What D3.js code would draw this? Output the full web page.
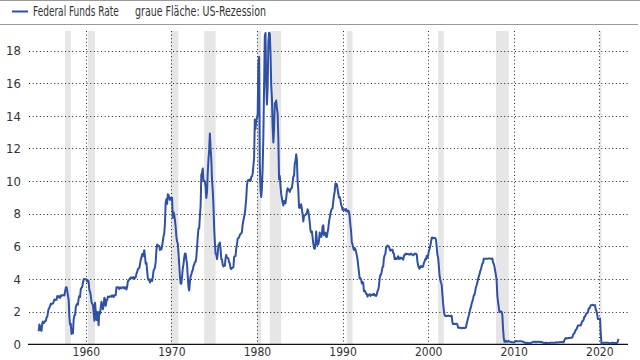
<!DOCTYPE html>
<html>
<head>
<meta charset="utf-8">
<script src="https://cdn.jsdelivr.net/npm/d3@7"></script>
<style>
  html, body { margin: 0; padding: 0; background: #fff; }
  svg { display: block; }
  text { font-family: "Liberation Sans Narrow", "DejaVu Sans Condensed", Roboto, sans-serif; font-stretch: condensed; fill: #333; }
</style>
</head>
<body>
<svg id="chart" width="640" height="360"></svg>
<script>
// ===== DATA =====
// monthly Federal Funds Rate in %, first value = July 1954
const firstMonth = 1954 + 6 / 12;
const rates = [
  0.80, 1.22, 1.07, 0.85, 0.83, 1.28,                               // 1954 (Jul-Dec)
  1.39, 1.29, 1.35, 1.43, 1.43, 1.64, 1.68, 1.96, 2.18, 2.24, 2.35, 2.48, // 1955
  2.45, 2.50, 2.50, 2.62, 2.75, 2.71, 2.75, 2.73, 2.95, 2.96, 2.88, 2.94, // 1956
  2.84, 3.00, 2.96, 3.00, 3.00, 3.00, 2.99, 3.24, 3.47, 3.50, 3.28, 2.98, // 1957
  2.72, 1.67, 1.20, 1.26, 0.63, 0.93, 0.68, 1.53, 1.76, 1.80, 2.27, 2.42, // 1958
  2.48, 2.43, 2.80, 2.96, 2.90, 3.39, 3.47, 3.50, 3.76, 3.98, 4.00, 3.99, // 1959
  3.99, 3.97, 3.84, 3.92, 3.85, 3.32, 3.23, 2.98, 2.60, 2.47, 2.44, 1.98, // 1960
  1.45, 2.54, 2.02, 1.49, 1.98, 1.73, 1.17, 2.00, 1.88, 2.26, 2.61, 2.33, // 1961
  2.15, 2.37, 2.85, 2.78, 2.36, 2.68, 2.71, 2.93, 2.90, 2.90, 2.94, 2.93, // 1962
  2.92, 3.00, 2.98, 2.90, 3.00, 2.99, 3.02, 3.49, 3.48, 3.50, 3.48, 3.38, // 1963
  3.48, 3.48, 3.43, 3.47, 3.50, 3.50, 3.42, 3.50, 3.45, 3.36, 3.52, 3.85, // 1964
  3.90, 3.98, 4.04, 4.09, 4.10, 4.04, 4.09, 4.12, 4.01, 4.08, 4.10, 4.32, // 1965
  4.42, 4.60, 4.65, 4.67, 4.90, 5.17, 5.30, 5.53, 5.40, 5.53, 5.76, 5.40, // 1966
  4.94, 5.00, 4.53, 4.05, 3.94, 3.98, 3.79, 3.90, 3.99, 3.88, 4.12, 4.51, // 1967
  4.60, 4.71, 5.05, 5.76, 6.11, 6.07, 6.02, 6.03, 5.78, 5.91, 5.82, 6.02, // 1968
  6.30, 6.61, 6.79, 7.41, 8.67, 8.90, 8.61, 9.19, 9.15, 9.00, 8.85, 8.97, // 1969
  8.98, 8.98, 7.76, 8.10, 7.95, 7.61, 7.21, 6.61, 6.29, 6.20, 5.60, 4.90, // 1970
  4.14, 3.72, 3.71, 4.16, 4.63, 4.91, 5.31, 5.56, 5.55, 5.20, 4.91, 4.14, // 1971
  3.50, 3.29, 3.83, 4.17, 4.27, 4.46, 4.55, 4.80, 4.87, 5.04, 5.06, 5.33, // 1972
  5.94, 6.58, 7.09, 7.12, 7.84, 8.49, 10.40, 10.50, 10.78, 10.01, 10.03, 9.95, // 1973
  9.65, 8.97, 9.35, 10.51, 11.31, 11.93, 12.92, 12.01, 11.34, 10.06, 9.45, 8.53, // 1974
  7.13, 6.24, 5.54, 5.49, 5.22, 5.55, 6.10, 6.14, 6.24, 5.82, 5.22, 5.20, // 1975
  4.87, 4.77, 4.84, 4.82, 5.29, 5.48, 5.31, 5.29, 5.25, 5.02, 4.95, 4.65, // 1976
  4.61, 4.68, 4.69, 4.73, 5.35, 5.39, 5.42, 5.90, 6.14, 6.47, 6.51, 6.56, // 1977
  6.70, 6.78, 6.79, 6.89, 7.36, 7.60, 7.81, 8.04, 8.45, 8.96, 9.76, 10.03, // 1978
  10.07, 10.06, 10.09, 10.01, 10.24, 10.29, 10.47, 10.94, 11.43, 13.77, 13.18, 13.78, // 1979
  13.82, 14.13, 17.19, 17.61, 10.98, 9.47, 9.03, 9.61, 10.87, 12.81, 15.85, 18.90, // 1980
  19.08, 15.93, 14.70, 15.72, 18.52, 19.10, 19.04, 17.82, 15.87, 15.08, 13.31, 12.37, // 1981
  13.22, 14.78, 14.68, 14.94, 14.45, 14.15, 12.59, 10.12, 10.31, 9.71, 9.20, 8.95, // 1982
  8.68, 8.51, 8.77, 8.80, 8.63, 8.98, 9.37, 9.56, 9.45, 9.48, 9.34, 9.47, // 1983
  9.56, 9.59, 9.91, 10.29, 10.32, 11.06, 11.23, 11.64, 11.30, 9.99, 9.43, 8.38, // 1984
  8.35, 8.50, 8.58, 8.27, 7.97, 7.53, 7.88, 7.90, 7.92, 7.99, 8.05, 8.27, // 1985
  8.14, 7.86, 7.48, 6.99, 6.85, 6.92, 6.56, 6.17, 5.89, 5.85, 6.04, 6.91, // 1986
  6.43, 6.10, 6.13, 6.37, 6.85, 6.73, 6.58, 6.73, 7.22, 7.29, 6.69, 6.77, // 1987
  6.83, 6.58, 6.58, 6.87, 7.09, 7.51, 7.75, 8.01, 8.19, 8.30, 8.35, 8.76, // 1988
  9.12, 9.36, 9.85, 9.84, 9.81, 9.53, 9.24, 8.99, 9.02, 8.84, 8.55, 8.45, // 1989
  8.23, 8.24, 8.28, 8.26, 8.18, 8.29, 8.15, 8.13, 8.20, 8.11, 7.81, 7.31, // 1990
  6.91, 6.25, 6.12, 5.91, 5.78, 5.90, 5.82, 5.66, 5.45, 5.21, 4.81, 4.43, // 1991
  4.03, 4.06, 3.98, 3.73, 3.82, 3.76, 3.25, 3.30, 3.22, 3.10, 3.09, 2.92, // 1992
  3.02, 3.03, 3.07, 2.96, 3.00, 3.04, 3.06, 3.03, 3.09, 2.99, 3.02, 2.96, // 1993
  3.05, 3.25, 3.34, 3.56, 4.01, 4.25, 4.26, 4.47, 4.73, 4.76, 5.29, 5.45, // 1994
  5.53, 5.92, 5.98, 6.05, 6.01, 6.00, 5.85, 5.74, 5.80, 5.76, 5.80, 5.60, // 1995
  5.56, 5.22, 5.31, 5.22, 5.24, 5.27, 5.40, 5.22, 5.30, 5.24, 5.31, 5.29, // 1996
  5.25, 5.19, 5.39, 5.51, 5.50, 5.56, 5.52, 5.54, 5.54, 5.50, 5.52, 5.50, // 1997
  5.56, 5.51, 5.49, 5.45, 5.49, 5.56, 5.54, 5.55, 5.51, 5.07, 4.83, 4.68, // 1998
  4.63, 4.76, 4.81, 4.74, 4.74, 4.76, 4.99, 5.07, 5.22, 5.20, 5.42, 5.30, // 1999
  5.45, 5.73, 5.85, 6.02, 6.27, 6.53, 6.54, 6.50, 6.52, 6.51, 6.51, 6.40, // 2000
  5.98, 5.49, 5.31, 4.80, 4.21, 3.97, 3.77, 3.65, 3.07, 2.49, 2.09, 1.82, // 2001
  1.73, 1.74, 1.73, 1.75, 1.75, 1.75, 1.73, 1.74, 1.75, 1.75, 1.34, 1.24, // 2002
  1.24, 1.26, 1.25, 1.26, 1.26, 1.22, 1.01, 1.03, 1.01, 1.01, 1.00, 0.98, // 2003
  1.00, 1.01, 1.00, 1.00, 1.00, 1.03, 1.26, 1.43, 1.61, 1.76, 1.93, 2.16, // 2004
  2.28, 2.50, 2.63, 2.79, 3.00, 3.04, 3.26, 3.50, 3.62, 3.78, 4.00, 4.16, // 2005
  4.29, 4.49, 4.59, 4.79, 4.94, 4.99, 5.24, 5.25, 5.25, 5.25, 5.25, 5.24, // 2006
  5.25, 5.26, 5.26, 5.25, 5.25, 5.25, 5.26, 5.02, 4.94, 4.76, 4.49, 4.24, // 2007
  3.94, 2.98, 2.61, 2.28, 1.98, 2.00, 2.01, 2.00, 1.81, 0.97, 0.39, 0.16, // 2008
  0.15, 0.22, 0.18, 0.15, 0.18, 0.21, 0.16, 0.16, 0.15, 0.12, 0.12, 0.12, // 2009
  0.11, 0.13, 0.16, 0.20, 0.20, 0.18, 0.18, 0.19, 0.19, 0.19, 0.19, 0.18, // 2010
  0.17, 0.16, 0.14, 0.10, 0.09, 0.09, 0.07, 0.10, 0.08, 0.07, 0.08, 0.07, // 2011
  0.08, 0.10, 0.13, 0.14, 0.16, 0.16, 0.16, 0.13, 0.14, 0.16, 0.16, 0.16, // 2012
  0.14, 0.15, 0.14, 0.15, 0.11, 0.09, 0.09, 0.08, 0.08, 0.09, 0.08, 0.09, // 2013
  0.07, 0.07, 0.08, 0.09, 0.09, 0.10, 0.09, 0.09, 0.09, 0.09, 0.09, 0.12, // 2014
  0.11, 0.11, 0.11, 0.12, 0.12, 0.13, 0.13, 0.14, 0.14, 0.12, 0.12, 0.24, // 2015
  0.34, 0.38, 0.36, 0.37, 0.37, 0.38, 0.39, 0.40, 0.40, 0.40, 0.41, 0.54, // 2016
  0.65, 0.66, 0.79, 0.90, 0.91, 1.04, 1.15, 1.16, 1.15, 1.15, 1.16, 1.30, // 2017
  1.41, 1.42, 1.51, 1.69, 1.70, 1.82, 1.91, 1.91, 1.95, 2.19, 2.20, 2.27, // 2018
  2.40, 2.40, 2.41, 2.42, 2.39, 2.38, 2.40, 2.13, 2.04, 1.83, 1.55, 1.55, // 2019
  1.55, 1.58, 0.65, 0.05, 0.05, 0.08, 0.09, 0.10, 0.09, 0.09, 0.09, 0.09, // 2020
  0.09, 0.08, 0.07, 0.07, 0.06, 0.08, 0.10, 0.09, 0.08, 0.08, 0.08, 0.08, // 2021
  0.08, 0.08, 0.20, 0.33                                             // 2022 (Jan-Apr)
];

// US recessions (start, end) as decimal years
const recessionStarts = [1957.58, 1960.25, 1969.92, 1973.83, 1980.0, 1981.5, 1990.5, 2001.17, 2007.92, 2020.08];
const recessionEnds   = [1958.25, 1961.08, 1970.83, 1975.17, 1980.5, 1982.83, 1991.17, 2001.83, 2009.42, 2020.25];

const xTicks = [1960, 1970, 1980, 1990, 2000, 2010, 2020];
const yTicks = [0, 2, 4, 6, 8, 10, 12, 14, 16, 18];
const legendLine = 'Federal Funds Rate';
const legendNote = 'graue Fläche: US-Rezession';

// ===== CHART =====
const lineColor = '#2e50a6';
const svg = d3.select('#chart');
const plotLeft = 28, plotRight = 628, plotTop = 31, plotBottom = 344.3;

const x = d3.scaleLinear().domain([1953.25, 2023.35]).range([plotLeft, plotRight]);
const y = d3.scaleLinear().domain([0, 19.2]).range([plotBottom, plotTop]);

const series = rates.map((v, i) => ({ t: firstMonth + i / 12, v }));

// squeeze a text horizontally so it spans the given width
function fitText(sel, px, py, width) {
    const w = sel.node().getComputedTextLength();
    const sx = Math.min(1, width / w);
    sel.attr('transform', `translate(${px},${py}) scale(${sx},1)`);
}

// frame lines above / below legend
svg.append('line').attr('x1', 0).attr('x2', 640).attr('y1', 0.5).attr('y2', 0.5)
    .attr('stroke', '#999').attr('stroke-width', 1);
svg.append('line').attr('x1', 0).attr('x2', 638).attr('y1', 24.5).attr('y2', 24.5)
    .attr('stroke', '#999').attr('stroke-width', 1);

// legend
svg.append('line').attr('x1', 12).attr('x2', 28).attr('y1', 11.5).attr('y2', 11.5)
    .attr('stroke', lineColor).attr('stroke-width', 2);
svg.append('text').style('font-size', '14px').text(legendLine)
    .call(fitText, 33, 16, 86);
svg.append('text').style('font-size', '14px').text(legendNote)
    .call(fitText, 135, 16, 131);

// recession bands
svg.append('g').selectAll('rect')
    .data(recessionStarts.map((s, i) => [s, recessionEnds[i]]))
    .join('rect')
    .attr('x', d => x(d[0]))
    .attr('width', d => x(d[1]) - x(d[0]))
    .attr('y', plotTop)
    .attr('height', plotBottom - plotTop)
    .attr('fill', '#e6e6e6');

// horizontal grid
svg.append('g').selectAll('line')
    .data(yTicks.filter(d => d > 0))
    .join('line')
    .attr('x1', plotLeft + 1).attr('x2', plotRight)
    .attr('y1', d => Math.round(y(d)) + 0.5).attr('y2', d => Math.round(y(d)) + 0.5)
    .attr('stroke', '#222').attr('stroke-width', 1).attr('stroke-dasharray', '1,2.6');

// vertical grid
svg.append('g').selectAll('line')
    .data(xTicks)
    .join('line')
    .attr('x1', d => Math.round(x(d)) + 0.5).attr('x2', d => Math.round(x(d)) + 0.5)
    .attr('y1', plotTop).attr('y2', plotBottom)
    .attr('stroke', '#222').attr('stroke-width', 1).attr('stroke-dasharray', '1,2.6');

// y axis labels
const yAxisG = svg.append('g').attr('transform', `translate(${plotLeft},0)`)
    .call(d3.axisLeft(y).tickValues(yTicks).tickSize(0).tickPadding(7));
yAxisG.select('.domain').remove();
yAxisG.selectAll('text').style('font-size', '13px').attr('fill', '#333');

// x axis, labels sit right at the bottom edge
const xAxisG = svg.append('g').attr('transform', `translate(0,${plotBottom})`)
    .call(d3.axisBottom(x).tickValues(xTicks).tickFormat(d3.format('d')).tickSize(0));
xAxisG.select('.domain').remove();
xAxisG.selectAll('text')
    .attr('y', 356 - plotBottom).attr('dy', 0)
    .style('font-size', '12px').attr('fill', '#333');

svg.append('line').attr('x1', plotLeft).attr('x2', plotRight).attr('y1', plotBottom).attr('y2', plotBottom)
    .attr('stroke', '#111').attr('stroke-width', 1.3);

// rate line, clipped at the plot top
svg.append('clipPath').attr('id', 'plot-clip')
    .append('rect').attr('x', plotLeft).attr('y', plotTop).attr('width', plotRight - plotLeft).attr('height', plotBottom - plotTop + 2);

svg.append('path')
    .datum(series)
    .attr('clip-path', 'url(#plot-clip)')
    .attr('fill', 'none')
    .attr('stroke', lineColor)
    .attr('stroke-width', 2)
    .attr('stroke-linejoin', 'round')
    .attr('d', d3.line().x(d => x(d.t)).y(d => y(d.v)));
</script>
</body>
</html>
